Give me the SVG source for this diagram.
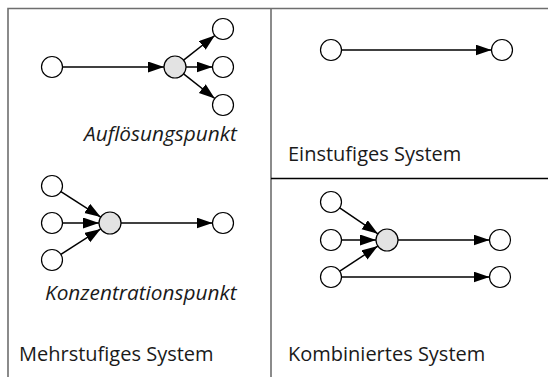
<svg xmlns="http://www.w3.org/2000/svg" width="548" height="377" viewBox="0 0 548 377">
  <style>
    .frame { stroke: #6e6e6e; stroke-width: 1.6; fill: none; }
    .divider { stroke: #000; stroke-width: 1.5; fill: none; }
    .node { fill: #fff; stroke: #000; stroke-width: 1.2; }
    .hub { fill: #e3e3e3; stroke: #000; stroke-width: 1.2; }
    .edge { stroke: #000; stroke-width: 1.5; fill: none; marker-end: url(#arrow); }
    .label { font-family: "Open Sans", "Noto Sans", sans-serif; font-size: 20px; fill: #1a1a1a; }
    .caption { font-style: italic; font-size: 20.8px; }
  </style>
  <defs>
    <marker id="arrow" markerUnits="userSpaceOnUse" markerWidth="17" markerHeight="12" refX="16" refY="5.5" orient="auto">
      <path d="M0,0 L16,5.5 L0,11 z" fill="#000"/>
    </marker>
  </defs>
  <rect width="548" height="377" fill="#fff"/>

  <!-- panel frame -->
  <g id="frame">
    <path class="frame" d="M8,377 V8.5 H548"/>
    <path class="frame" d="M271,8.5 V377"/>
    <path class="divider" d="M271,178.5 H548"/>
  </g>

  <!-- connectors -->
  <g id="connectors">
    <!-- multi-stage: dissolution point -->
    <line class="edge" x1="62.5" y1="67" x2="164" y2="67"/>
    <line class="edge" x1="183.6" y1="60.2" x2="214.8" y2="35.5"/>
    <line class="edge" x1="186" y1="67" x2="212.5" y2="67"/>
    <line class="edge" x1="183.6" y1="73.8" x2="214.8" y2="98.5"/>
    <!-- multi-stage: concentration point -->
    <line class="edge" x1="60.9" y1="191.6" x2="100.7" y2="217.1"/>
    <line class="edge" x1="62.5" y1="223" x2="99" y2="223"/>
    <line class="edge" x1="60.9" y1="254.4" x2="100.7" y2="228.9"/>
    <line class="edge" x1="121" y1="223" x2="212.5" y2="223"/>
    <!-- single-stage -->
    <line class="edge" x1="341.5" y1="50" x2="491.5" y2="50"/>
    <!-- combined -->
    <line class="edge" x1="339.7" y1="207.9" x2="377.9" y2="233.8"/>
    <line class="edge" x1="341.5" y1="240" x2="376" y2="240"/>
    <line class="edge" x1="339.8" y1="271.2" x2="377.8" y2="246.1"/>
    <line class="edge" x1="398" y1="240" x2="489.5" y2="240"/>
    <line class="edge" x1="341.5" y1="277" x2="489.5" y2="277"/>
  </g>

  <!-- nodes -->
  <g id="a-src"><circle class="node" cx="52" cy="67" r="10.5"/></g>
  <g id="a-hub"><circle class="hub" cx="175" cy="67" r="11"/></g>
  <g id="a-out1"><circle class="node" cx="223" cy="29" r="10.5"/></g>
  <g id="a-out2"><circle class="node" cx="223" cy="67" r="10.5"/></g>
  <g id="a-out3"><circle class="node" cx="223" cy="105" r="10.5"/></g>

  <g id="k-in1"><circle class="node" cx="52" cy="186" r="10.5"/></g>
  <g id="k-in2"><circle class="node" cx="52" cy="223" r="10.5"/></g>
  <g id="k-in3"><circle class="node" cx="52" cy="260" r="10.5"/></g>
  <g id="k-hub"><circle class="hub" cx="110" cy="223" r="11"/></g>
  <g id="k-out"><circle class="node" cx="223" cy="223" r="10.5"/></g>

  <g id="e-src"><circle class="node" cx="331" cy="50" r="10.5"/></g>
  <g id="e-dst"><circle class="node" cx="502" cy="50" r="10.5"/></g>

  <g id="c-in1"><circle class="node" cx="331" cy="202" r="10.5"/></g>
  <g id="c-in2"><circle class="node" cx="331" cy="240" r="10.5"/></g>
  <g id="c-in3"><circle class="node" cx="331" cy="277" r="10.5"/></g>
  <g id="c-hub"><circle class="hub" cx="387" cy="240" r="11"/></g>
  <g id="c-out1"><circle class="node" cx="500" cy="240" r="10.5"/></g>
  <g id="c-out2"><circle class="node" cx="500" cy="277" r="10.5"/></g>

  <!-- labels -->
  <g id="labels">
    <text class="label caption" x="84" y="141">Auflösungspunkt</text>
    <text class="label caption" x="45" y="300">Konzentrationspunkt</text>
    <text class="label" x="19" y="361">Mehrstufiges System</text>
    <text class="label" x="288" y="161">Einstufiges System</text>
    <text class="label" x="288" y="361">Kombiniertes System</text>
  </g>
</svg>
